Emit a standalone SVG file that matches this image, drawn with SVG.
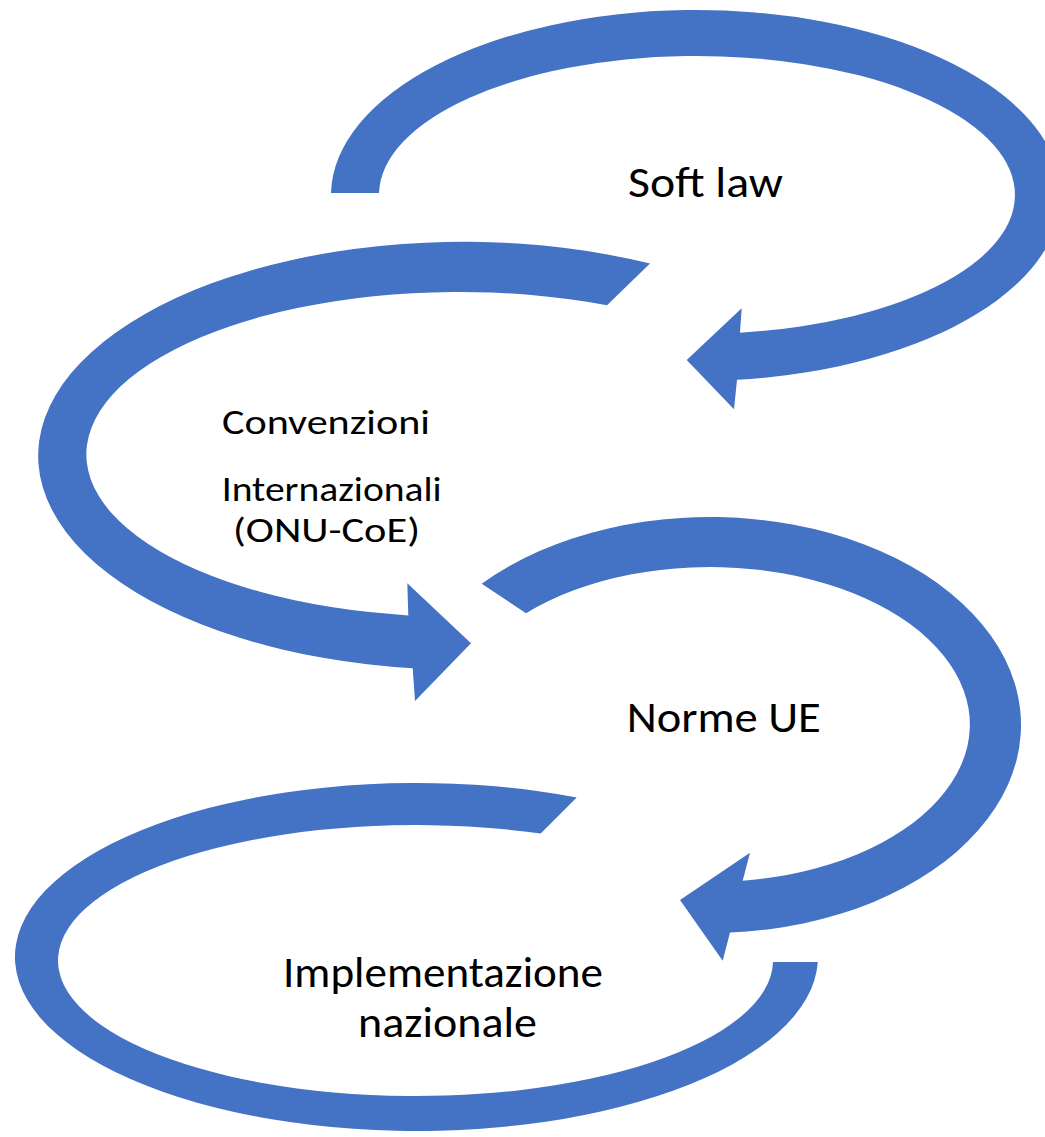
<svg xmlns="http://www.w3.org/2000/svg" width="1045" height="1137" viewBox="0 0 1045 1137">
  <style>
    .arrow { fill: #4472C4; stroke: none; }
    .lbl { font-family: Carlito, Lato, "Liberation Sans", sans-serif; fill: #000000; text-anchor: middle; }
    .big { font-size: 43px; }
    .mid { font-size: 34px; }
  </style>
  <rect width="1045" height="1137" fill="#ffffff"/>
  <g id="connectors">
    <path id="arrow-softlaw" class="arrow" d="M 331 193 A 365 185.5 0 1 1 737 379.8 L 734 409.3 L 686.7 360 L 741.7 308.3 L 740 332.7 A 318 139 0 1 0 379 193 Z"/>
    <path id="arrow-convenzioni" class="arrow" d="M 650 263.6 A 425 214 0 1 0 412.7 668.3 L 415 701 L 471 643.3 L 407.3 583.3 L 408.3 615.4 A 373 162.5 0 1 1 607 305.2 Z"/>
    <path id="arrow-norme" class="arrow" d="M 481.7 583.8 A 311 208 0 1 1 730 932.6 L 722.7 960.7 L 680 900 L 750 852.7 L 742.7 880.8 A 260 157.5 0 1 0 526 613.2 Z"/>
    <path id="arrow-implementazione" class="arrow" d="M 576.7 797.4 A 401.5 174 0 1 0 817.8 962 L 773 962 A 357.5 135.5 0 1 1 540.7 833.6 Z"/>
  </g>
  <g id="node-softlaw">
    <text class="lbl big" x="705.5" y="197" textLength="155" lengthAdjust="spacingAndGlyphs">Soft law</text>
  </g>
  <g id="node-convenzioni">
    <text class="lbl mid" x="326" y="434" textLength="208" lengthAdjust="spacingAndGlyphs">Convenzioni</text>
    <text class="lbl mid" x="331.7" y="501" textLength="220" lengthAdjust="spacingAndGlyphs">Internazionali</text>
    <text class="lbl mid" x="326.5" y="542" textLength="187" lengthAdjust="spacingAndGlyphs">(ONU-CoE)</text>
  </g>
  <g id="node-norme">
    <text class="lbl big" x="723.7" y="731.5" textLength="194" lengthAdjust="spacingAndGlyphs">Norme UE</text>
  </g>
  <g id="node-implementazione">
    <text class="lbl big" x="443" y="986.5" textLength="320" lengthAdjust="spacingAndGlyphs">Implementazione</text>
    <text class="lbl big" x="447.5" y="1036.5" textLength="179" lengthAdjust="spacingAndGlyphs">nazionale</text>
  </g>
</svg>
